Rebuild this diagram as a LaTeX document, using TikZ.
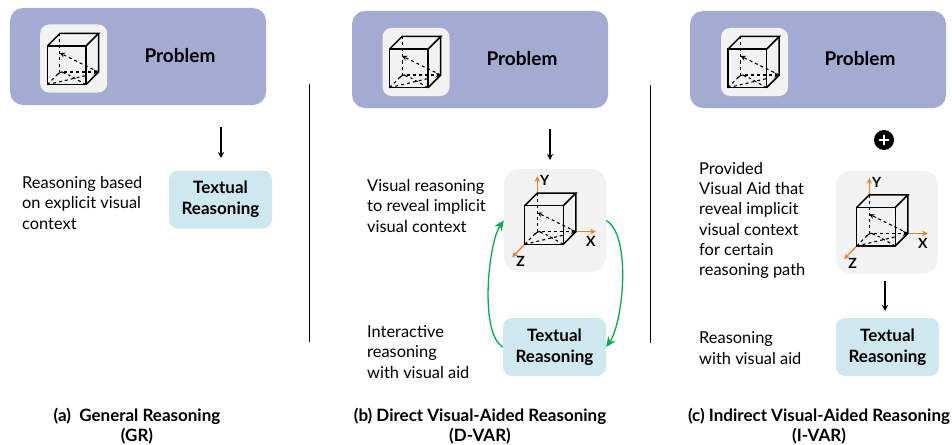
\documentclass[tikz,border=0pt]{standalone}
\usepackage{fontspec}
\setmainfont{Lato}
\usetikzlibrary{arrows.meta}
\definecolor{problemblue}{HTML}{A3ABD3}
\definecolor{textblue}{HTML}{CFE8F0}
\definecolor{panelgray}{HTML}{F2F2F2}
\definecolor{axisorange}{HTML}{ED7D31}
\definecolor{loopgreen}{HTML}{00B050}
\tikzset{
	problembox/.style={fill=problemblue,rounded corners=13pt,minimum width=256pt,minimum height=97pt,inner sep=0pt},
	iconbox/.style={fill=panelgray,rounded corners=9pt,minimum width=67pt,minimum height=68pt,inner sep=0pt},
	panelbox/.style={fill=panelgray,rounded corners=15pt,minimum width=102pt,minimum height=103pt,inner sep=0pt},
	textbox/.style={fill=textblue,rounded corners=9pt,minimum width=103pt,minimum height=58pt,inner sep=0pt,align=center,font=\fontsize{17}{21}\selectfont\bfseries},
	titlelabel/.style={font=\fontsize{19}{20}\selectfont\bfseries,inner sep=0pt},
	sidelabel/.style={anchor=west,align=left,inner sep=0pt,font=\fontsize{16.4}{20.2}\selectfont},
	caption/.style={align=center,inner sep=0pt,font=\fontsize{17}{20}\selectfont\bfseries},
	flowarrow/.style={-{Stealth[length=6pt,width=6pt]},line width=1.1pt},
	looparrow/.style={-{Stealth[length=10pt,width=9pt]},loopgreen,line width=1.3pt},
	pics/cube/.style={code={
		\draw[line width=1.5pt] (0,0) rectangle (38.6,-38.6);
		\draw[line width=1.5pt] (0,-38.6) -- (12.6,-51.2) -- (51.2,-51.2) -- (38.6,-38.6);
		\draw[line width=1.5pt] (51.2,-51.2) -- (51.2,-12.7) -- (38.6,0);
		\draw[dashed,line width=1.1pt] (0,0) -- (12.6,-12.7);
		\draw[dashed,line width=1.1pt] (12.6,-51.2) -- (12.6,-12.7);
		\draw[dashed,line width=1.1pt,-{Stealth[length=5pt,width=5pt]}] (51.2,-12.7) -- (12.6,-31.7);
		\draw[dashed,line width=1.1pt,-{Stealth[length=5pt,width=5pt]}] (17,-12.7) -- (51.2,-12.7);
		\draw[dashed,line width=1.1pt] (0,0) -- (38,-9);
		\draw[dashed,line width=1.1pt] (38.6,0) -- (21,-10);
		\draw[line width=1.1pt] (10,-10) .. controls (14,-14) and (16,-13) .. (18,-11);
	}},
	pics/axes/.style={code={
		\coordinate (-yfoot) at (12.6,-51.2);
		\coordinate (-ytip) at (12.6,-68);
		\coordinate (-xfoot) at (51.2,-12.7);
		\coordinate (-xtip) at (71,-12.7);
		\coordinate (-zfoot) at (0,0);
		\coordinate (-ztip) at (-12.5,13);
		\draw[axisorange,line width=1.3pt,-{Stealth[length=5.5pt,width=5.5pt]}] (-yfoot) -- (-ytip);
		\draw[axisorange,line width=1.3pt,-{Stealth[length=5.5pt,width=5.5pt]}] (-xfoot) -- (-xtip);
		\draw[axisorange,line width=1.3pt,-{Stealth[length=5.5pt,width=5.5pt]}] (-zfoot) -- (-ztip);
		\node[inner sep=0pt,font=\fontsize{14}{15}\selectfont\bfseries] (-ylabel) at (20,-63.5) {Y};
		\node[inner sep=0pt,font=\fontsize{14}{15}\selectfont\bfseries] (-xlabel) at (66,-2.5) {X};
		\node[inner sep=0pt,font=\fontsize{14}{15}\selectfont\bfseries] (-zlabel) at (-4,17.5) {Z};
	}},
}
\begin{document}
\begin{tikzpicture}[x=1pt,y=-1pt]
	\useasboundingbox (0,0) rectangle (952,444);

	\node[problembox] (problema) at (138,56.5) {};
	\node[iconbox] (icona) at (73.7,58.5) {};
	\pic at (47.3,84.7) {cube};
	\node[titlelabel] (titlea) at (180,56) {Problem};
	\coordinate (arrowatop) at (221,127);
	\coordinate (arrowaend) at (221,158);
	\draw[flowarrow] (arrowatop) -- (arrowaend);
	\node[textbox] (texta) at (220.5,199.5) {\raisebox{-4pt}{Textual}\\\raisebox{-4pt}{Reasoning}};
	\node[sidelabel] (labela) at (22,203) {Reasoning based\\on explicit visual\\context};
	\node[caption] (captiona) at (137,426) {(a)\ \ General Reasoning\\(GR)};

	\coordinate (sepatop) at (309,84);
	\coordinate (sepaend) at (309,342);
	\draw[line width=0.8pt] (sepatop) -- (sepaend);

	\node[problembox] (problemb) at (480,59.5) {};
	\node[iconbox] (iconb) at (416,62) {};
	\pic at (389.5,87.7) {cube};
	\node[titlelabel] (titleb) at (522,59) {Problem};
	\coordinate (arrowbtop) at (550,129);
	\coordinate (arrowbend) at (550,160);
	\draw[flowarrow] (arrowbtop) -- (arrowbend);
	\node[panelbox] (panelb) at (555,220.5) {};
	\pic (axesb) at (524.7,244.3) {axes};
	\pic at (524.7,244.3) {cube};
	\node[textbox] (textb) at (554.5,347) {\raisebox{-4pt}{Textual}\\\raisebox{-4pt}{Reasoning}};
	\draw[looparrow] (panelb.east) to[out=-30,in=55,looseness=0.6] (textb.east);
	\draw[looparrow] (textb.west) to[out=150,in=-125,looseness=0.55] (panelb.west);
	\node[sidelabel] (labelbtop) at (367,206) {Visual reasoning\\to reveal implicit\\visual context};
	\node[sidelabel] (labelbend) at (367,352) {Interactive\\reasoning\\with visual aid};
	\node[caption] (captionb) at (480,426) {(b) Direct Visual-Aided Reasoning\\(D-VAR)};

	\coordinate (sepbtop) at (650,85);
	\coordinate (sepbend) at (650,343);
	\draw[line width=0.8pt] (sepbtop) -- (sepbend);

	\node[problembox] (problemc) at (818,59.5) {};
	\node[iconbox] (iconc) at (754.5,62) {};
	\pic at (728,87.7) {cube};
	\node[titlelabel] (titlec) at (860,59) {Problem};
	\node[circle,fill=black,minimum size=20pt,inner sep=0pt] (plusc) at (884,140) {};
	\draw[white,line width=1.6pt] ([xshift=-5pt]plusc.center) -- ([xshift=5pt]plusc.center);
	\draw[white,line width=1.6pt] ([yshift=-5pt]plusc.center) -- ([yshift=5pt]plusc.center);
	\node[panelbox] (panelc) at (887,222) {};
	\pic (axesc) at (856.7,246) {axes};
	\pic at (856.7,246) {cube};
	\coordinate (arrowctop) at (885,281);
	\coordinate (arrowcend) at (885,311);
	\draw[flowarrow] (arrowctop) -- (arrowcend);
	\node[textbox] (textc) at (887.5,347) {\raisebox{-4pt}{Textual}\\\raisebox{-4pt}{Reasoning}};
	\node[sidelabel] (labelctop) at (699,220.5) {Provided\\Visual Aid that\\reveal implicit\\visual context\\for certain\\reasoning path};
	\node[sidelabel] (labelcend) at (699,348) {Reasoning\\with visual aid};
	\node[caption] (captionc) at (819,426) {(c) Indirect Visual-Aided Reasoning\\(I-VAR)};
\end{tikzpicture}
\end{document}
